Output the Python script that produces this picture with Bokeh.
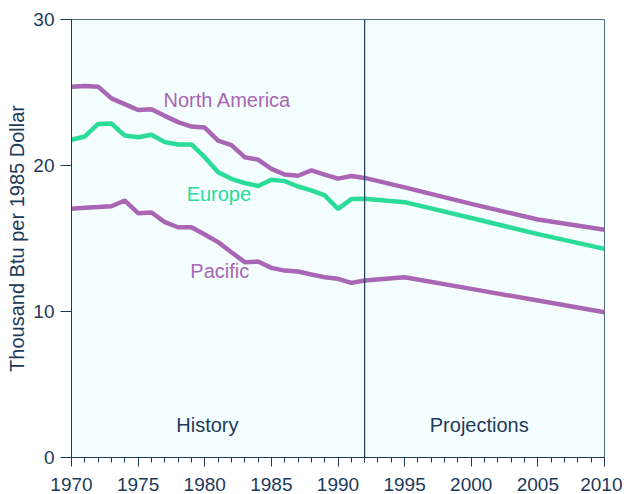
from bokeh.plotting import figure
from bokeh.models import Range1d, FixedTicker, Span, Label
from bokeh.embed import file_html
from bokeh.resources import INLINE

years = [1970, 1971, 1972, 1973, 1974, 1975, 1976, 1977, 1978, 1979, 1980,
         1981, 1982, 1983, 1984, 1985, 1986, 1987, 1988, 1989, 1990, 1991, 1992,
         1995, 2000, 2005, 2010]
north_america = [25.4, 25.45, 25.4, 24.6, 24.2, 23.8, 23.86, 23.4, 22.97, 22.67, 22.6,
                 21.7, 21.4, 20.57, 20.4, 19.77, 19.38, 19.3, 19.66, 19.38, 19.1, 19.28, 19.15,
                 18.5, 17.37, 16.3, 15.6]
europe = [21.76, 21.99, 22.85, 22.87, 22.05, 21.94, 22.1, 21.6, 21.44, 21.44, 20.57,
          19.54, 19.09, 18.8, 18.6, 19.02, 18.93, 18.56, 18.29, 17.95, 17.03, 17.7, 17.72,
          17.49, 16.4, 15.3, 14.29]
pacific = [17.03, 17.1, 17.15, 17.21, 17.6, 16.73, 16.78, 16.12, 15.77, 15.77, 15.27,
           14.75, 14.06, 13.38, 13.42, 12.99, 12.8, 12.74, 12.53, 12.35, 12.24, 11.96, 12.12,
           12.35, 11.55, 10.75, 9.95]
x_ticks = [1970, 1975, 1980, 1985, 1990, 1995, 2000, 2005, 2010]
y_ticks = [0, 10, 20, 30]
split_year = 1992

PURPLE = "#a866b4"
GREEN = "#2adc98"
NAVY = "#1c3a5a"
FONT = "Liberation Sans"

p = figure(width=622, height=494, output_backend="svg", toolbar_location=None,
           x_range=Range1d(1970, 2010), y_range=Range1d(0, 30),
           min_border_left=71, min_border_right=18, min_border_top=19, min_border_bottom=37)
p.background_fill_color = "#f5fefe"
p.border_fill_color = "white"
p.outline_line_color = "#4a6a85"
p.outline_line_width = 1
p.xgrid.grid_line_color = None
p.ygrid.grid_line_color = None

p.line(years, north_america, line_color=PURPLE, line_width=4.5)
p.line(years, europe, line_color=GREEN, line_width=4.5)
p.line(years, pacific, line_color=PURPLE, line_width=4.5)

p.add_layout(Span(location=split_year, dimension="height", line_color=NAVY, line_width=1.2))

for txt, x, y, col in [("North America", 1981.7, 24.5, PURPLE),
                       ("Europe", 1981.06, 18.03, GREEN),
                       ("Pacific", 1981.13, 12.79, PURPLE),
                       ("History", 1980.2, 2.2, NAVY),
                       ("Projections", 2000.6, 2.2, NAVY)]:
    p.add_layout(Label(x=x, y=y, text=txt, text_color=col, text_font=FONT,
                       text_font_size="20px", text_align="center", text_baseline="middle"))

xa = p.xaxis[0]
xa.ticker = FixedTicker(ticks=x_ticks, minor_ticks=list(range(1970, 2011)))
xa.major_tick_out = 9
xa.major_tick_in = 0
xa.minor_tick_out = 5
xa.minor_tick_in = 0
xa.axis_line_color = NAVY
xa.major_tick_line_color = NAVY
xa.minor_tick_line_color = NAVY
xa.major_label_text_color = NAVY
xa.major_label_text_font = FONT
xa.major_label_text_font_size = "19px"
xa.major_label_standoff = 11

ya = p.yaxis[0]
ya.ticker = FixedTicker(ticks=y_ticks, minor_ticks=[])
ya.major_tick_out = 11
ya.major_tick_in = 0
ya.axis_line_color = NAVY
ya.major_tick_line_color = NAVY
ya.major_label_text_color = NAVY
ya.major_label_text_font = FONT
ya.major_label_text_font_size = "19px"
ya.major_label_standoff = 6
ya.axis_label = "Thousand Btu per 1985 Dollar"
ya.axis_label_text_color = NAVY
ya.axis_label_text_font = FONT
ya.axis_label_text_font_size = "20px"
ya.axis_label_text_font_style = "normal"
ya.axis_label_standoff = 2

open("out.html", "w").write(file_html(p, INLINE))
